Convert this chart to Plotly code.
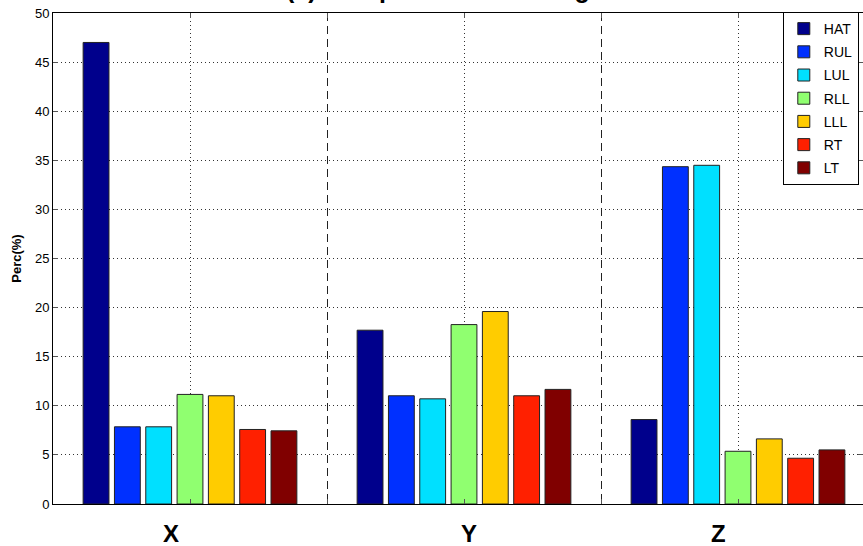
import plotly.graph_objects as go

categories = [1, 2, 3]
category_labels = ["X", "Y", "Z"]
label_positions = [0.93, 2.02, 2.93]
series_names = ["HAT", "RUL", "LUL", "RLL", "LLL", "RT", "LT"]
HAT = [47.0, 17.7, 8.6]
RUL = [7.86, 11.02, 34.35]
LUL = [7.86, 10.71, 34.49]
RLL = [11.16, 18.27, 5.37]
LLL = [11.02, 19.6, 6.63]
RT = [7.59, 11.02, 4.66]
LT = [7.45, 11.67, 5.51]
series_values = [HAT, RUL, LUL, RLL, LLL, RT, LT]
colors = ["#00008C", "#0030FF", "#00E0FF", "#90FF70", "#FFCC00", "#FF2000", "#800000"]
y_ticks = [0, 5, 10, 15, 20, 25, 30, 35, 40, 45, 50]
separators = [1.5, 2.5]
title_text = "(a) Comparison of Average"

FONT = "Liberation Sans, Arial, Helvetica, sans-serif"

fig = go.Figure()
for i, (name, vals) in enumerate(zip(series_names, series_values)):
    fig.add_trace(go.Bar(
        x=categories, y=vals, name=name, legendgroup=name,
        marker=dict(color=colors[i], line=dict(color="#222222", width=1)),
    ))

for xpos, lab in zip(label_positions, category_labels):
    fig.add_annotation(x=xpos, y=-0.06, xref="x", yref="paper", text="<b>%s</b>" % lab,
                       showarrow=False, font=dict(family=FONT, size=24, color="black"),
                       yanchor="middle", height=24, valign="middle", borderpad=0)

fig.add_annotation(x=1.93, y=1.0165, xref="x", yref="paper", text="<b>%s</b>" % title_text,
                   showarrow=False, font=dict(family=FONT, size=25, color="black"),
                   yanchor="bottom", xanchor="center")

fig.update_layout(
    width=863, height=546,
    margin=dict(l=53, r=0, t=13, b=42),
    plot_bgcolor="white", paper_bgcolor="white",
    barmode="group", bargap=0.2, bargroupgap=0.175,
    font=dict(family=FONT, size=13, color="black"),
    showlegend=True,
    legend=dict(x=0.901, y=1.002, xanchor="left", yanchor="top",
                bgcolor="white", bordercolor="black", borderwidth=1,
                font=dict(family=FONT, size=14, color="black"),
                tracegroupgap=2, traceorder="grouped",
                entrywidth=70, entrywidthmode="pixels"),
    yaxis=dict(range=[0, 50], tickvals=y_ticks, ticks="inside", ticklen=5,
               tickcolor="#555", showline=True, linecolor="black", linewidth=1,
               mirror="ticks", showgrid=True, gridcolor="#333", griddash="1px,3px",
               gridwidth=1, zeroline=False,
               tickfont=dict(family=FONT, size=13, color="black"),
               title=dict(text="<b>Perc(%)</b>", font=dict(family=FONT, size=13), standoff=10)),
    xaxis=dict(range=[0.5, 0.5 + 810 / 274], tickvals=categories, ticktext=["", "", ""],
               ticks="inside", ticklen=5, tickcolor="#555",
               showline=True, linecolor="black", linewidth=1, mirror="ticks",
               showgrid=True, gridcolor="#333", griddash="1px,3px", gridwidth=1,
               zeroline=False,
               minor=dict(tickvals=separators, showgrid=True, gridcolor="#222",
                          griddash="8px,5px", gridwidth=1, ticks="inside", ticklen=5,
                          tickcolor="#555")),
)

fig.write_html("out.html", config={"displayModeBar": False},
               post_script="document.body.style.margin='0';document.body.style.overflow='hidden';")
